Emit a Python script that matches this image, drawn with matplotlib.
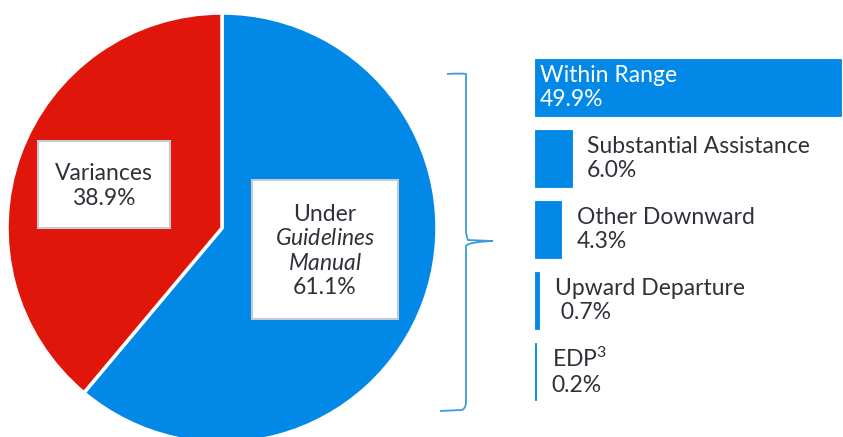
import matplotlib.pyplot as plt
from matplotlib.patches import Rectangle
from matplotlib.path import Path
from matplotlib.patches import PathPatch

# overall split of cases
pie_labels = ["Under\n$\\it{Guidelines}$\n$\\it{Manual}$", "Variances"]
pie_values = [61.1, 38.9]

# breakdown of the within-guidelines share
bar_labels = ["Within Range", "Substantial Assistance", "Other Downward",
              "Upward Departure", "EDP$^{3}$"]
bar_values = [49.9, 6.0, 4.3, 0.7, 0.2]

blue = "#0288E6"
red = "#DF1609"
text_color = "#2E3238"
fs = 16.5
ls = 1.2

plt.rcParams['font.family'] = ['Lato', 'DejaVu Sans']
plt.rcParams['mathtext.fontset'] = 'custom'
plt.rcParams['mathtext.it'] = 'Lato:italic'
plt.rcParams['mathtext.rm'] = 'Lato'

W, H = 843, 437
fig = plt.figure(figsize=(W / 100, H / 100), dpi=100)

# pie
R = 215
cx, cy = 222, 228
ax = fig.add_axes([(cx - R) / W, (H - cy - R) / H, 2 * R / W, 2 * R / H])
ax.pie(pie_values, colors=[blue, red], startangle=90, counterclock=False,
       wedgeprops=dict(edgecolor="white", linewidth=2.5))
ax.set_xlim(-1, 1)
ax.set_ylim(-1, 1)
ax.set_aspect('equal')

# overlay in pixel coordinates for label boxes and the brace
ov = fig.add_axes([0, 0, 1, 1])
ov.set_xlim(0, W)
ov.set_ylim(H, 0)
ov.axis('off')
ov.patch.set_alpha(0)

box_kw = dict(facecolor="white", edgecolor="#C3CAD3", linewidth=1.5)
ov.add_patch(Rectangle((38, 141), 132, 87, **box_kw))
ov.add_patch(Rectangle((252, 180), 146, 139, **box_kw))
ov.text(104, 186, f"{pie_labels[1]}\n{pie_values[1]:.1f}%", ha='center', va='center',
        fontsize=fs, color=text_color, linespacing=ls)
ov.text(325, 251, f"{pie_labels[0]}\n{pie_values[0]:.1f}%", ha='center', va='center',
        fontsize=fs, color=text_color, linespacing=ls)

# curly brace
verts = [(447, 74), (462, 73), (466, 74), (466, 80),
         (466, 230), (466, 236), (468, 240), (493, 241),
         (468, 242), (466, 246), (466, 252),
         (466, 402), (466, 408), (462, 410), (440, 411)]
codes = [Path.MOVETO, Path.CURVE3, Path.CURVE3, Path.LINETO,
         Path.LINETO, Path.CURVE3, Path.CURVE3, Path.LINETO,
         Path.CURVE3, Path.CURVE3, Path.LINETO,
         Path.LINETO, Path.CURVE3, Path.CURVE3, Path.LINETO]
ov.add_patch(PathPatch(Path(verts, codes), facecolor='none', edgecolor="#3A9BE3",
                       linewidth=1.3))

# horizontal bars
bx = fig.add_axes([535 / W, (H - 407) / H, (W - 535) / W, 355 / H])
y = list(range(len(bar_values)))
bx.barh(y, bar_values, height=0.8, color=blue, edgecolor=blue, linewidth=0.6)
bx.set_xlim(0, 50.3)
bx.set_ylim(len(bar_values) - 0.5, -0.5)
bx.axis('off')

for i, (lab, val) in enumerate(zip(bar_labels, bar_values)):
    if i == 0:
        bx.text(0.8, i, f"{lab}\n{val:.1f}%", ha='left', va='center',
                fontsize=fs, color='white', linespacing=ls)
    else:
        pad = " " if lab.startswith("Upward") else ""
        bx.text(val + 2.5, i, f"{lab}\n{pad}{val:.1f}%", ha='left', va='center',
                fontsize=fs, color=text_color, linespacing=ls)

fig.savefig("out.png", dpi=100)
